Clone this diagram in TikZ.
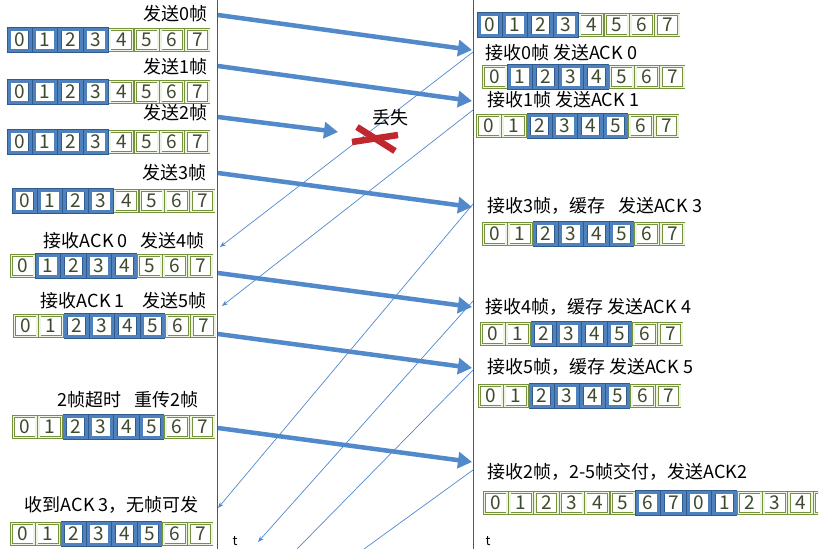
\documentclass[tikz,border=0pt]{standalone}
\usepackage{fontspec}
\setmainfont{Noto Sans CJK SC}
\usepackage{xcolor}
\usepackage{tikz}
\usetikzlibrary{arrows.meta}
\definecolor{SWGreen}{HTML}{76923C}
\definecolor{SWFill}{HTML}{EEF4E2}
\definecolor{SWBlue}{HTML}{4F81BD}
\definecolor{SWBlueDark}{HTML}{2E5A8E}
\definecolor{SWArrow}{HTML}{5289CB}
\definecolor{SWDigit}{HTML}{3E4A30}
\definecolor{SWRed}{HTML}{C0282E}
\definecolor{SWAxis}{HTML}{555555}

% one row of window slots: name, x, y, first blue, last blue, last index
\newcommand{\slotrow}[6]{%
  \foreach \i in {0,...,#6}{%
    \pgfmathtruncatemacro{\num}{mod(\i,8)}%
    \ifnum\i<#4\relax\def\kind{slot}\else\ifnum\i>#5\relax\def\kind{slot}\else\def\kind{hot}\fi\fi
    \node[\kind] (#1-\i) at (#2+12.7+25.4*\i,#3+12) {\num};
  }}

\begin{document}
\begin{tikzpicture}[x=1pt,y=-1pt,
  lab/.style={inner sep=0pt,font=\fontsize{18}{21}\selectfont},
  slot/.style={draw=SWGreen,line width=.6pt,double=SWFill,double distance=1.6pt,fill=white,
    minimum width=22.6pt,minimum height=21.2pt,inner sep=0pt,text=SWDigit,font=\fontsize{19}{19}\selectfont},
  hot/.style={slot,draw=SWBlueDark,line width=.5pt,double=SWBlue,double distance=3pt,minimum width=21.4pt},
  sendarrow/.style={SWArrow,line width=4.5pt,-{Triangle[length=14pt,width=16pt]}},
  ack/.style={SWArrow,line width=.7pt,-{Stealth[length=6pt,width=4.5pt]}},
  ackcut/.style={SWArrow,line width=.7pt},
  lost/.style={SWRed,line width=6.5pt},
  axis/.style={SWAxis,line width=.8pt}]
\useasboundingbox (0,0) rectangle (825,549);
\fill[white] (0,0) rectangle (825,549);

% time lines
\coordinate (sndtop) at (217,0);
\coordinate (sndbot) at (217,549);
\coordinate (rcvtop) at (473,0);
\coordinate (rcvbot) at (473,549);
\draw[axis] (sndtop) -- (sndbot);
\draw[axis] (rcvtop) -- (rcvbot);
\node[lab,font=\fontsize{13}{13}\selectfont] (sndt) at (235,541) {t};
\node[lab,font=\fontsize{13}{13}\selectfont] (rcvt) at (488,541) {t};

% sender windows
\node[lab,anchor=east] (s1lab) at (208,14) {发送0帧};
\slotrow{s1}{7}{28}{0}{3}{7}
\node[lab,anchor=east] (s2lab) at (208,67) {发送1帧};
\slotrow{s2}{7}{80}{0}{3}{7}
\node[lab,anchor=east] (s3lab) at (208,113) {发送2帧};
\slotrow{s3}{7}{130}{0}{3}{7}
\node[lab,anchor=east] (s4lab) at (207,173) {发送3帧};
\slotrow{s4}{12}{189}{0}{3}{7}
\node[lab,anchor=east] (s5lab) at (205,241) {接收ACK 0\enspace\ 发送4帧};
\slotrow{s5}{10}{254}{1}{4}{7}
\node[lab,anchor=east] (s6lab) at (207,301) {接收ACK 1\enspace\enspace 发送5帧};
\slotrow{s6}{13}{314}{2}{5}{7}
\node[lab,anchor=east] (s7lab) at (199,400) {2帧超时\enspace\ 重传2帧};
\slotrow{s7}{12}{415}{2}{5}{7}
\node[lab,anchor=east] (s8lab) at (199,505) {收到ACK 3，无帧可发};
\slotrow{s8}{10}{522}{2}{5}{7}

% receiver windows
\slotrow{r1}{477}{13}{0}{3}{7}
\node[lab,anchor=west] (r2lab) at (485,53) {接收0帧 发送ACK 0};
\slotrow{r2}{482}{65}{1}{4}{7}
\node[lab,anchor=west] (r3lab) at (487,100) {接收1帧 发送ACK 1};
\slotrow{r3}{476}{114}{2}{5}{7}
\node[lab,anchor=west] (r4lab) at (487,206) {接收3帧，缓存\enspace\ 发送ACK 3};
\slotrow{r4}{482}{222}{2}{5}{7}
\node[lab,anchor=west] (r5lab) at (485,307) {接收4帧，缓存 发送ACK 4};
\slotrow{r5}{480}{322}{2}{5}{7}
\node[lab,anchor=west] (r6lab) at (487,367) {接收5帧，缓存 发送ACK 5};
\slotrow{r6}{478}{384}{2}{5}{7}
\node[lab,anchor=west] (r7lab) at (487,472) {接收2帧，2-5帧交付，发送ACK2};
\slotrow{r7}{483}{491}{6}{9}{12}
\begin{scope}
\clip (470,480) rectangle (818,522);
\node[slot] (r7-13) at (483+12.7+25.4*13,503) {};
\end{scope}

% data frames
\coordinate (f0s) at (218,15);  \coordinate (f0e) at (472,50);
\coordinate (f1s) at (218,66);  \coordinate (f1e) at (472,101);
\coordinate (f2s) at (218,117); \coordinate (f2e) at (338,132);
\coordinate (f3s) at (218,173); \coordinate (f3e) at (472,207);
\coordinate (f4s) at (218,273); \coordinate (f4e) at (472,307);
\coordinate (f5s) at (218,334); \coordinate (f5e) at (472,368);
\coordinate (f6s) at (218,428); \coordinate (f6e) at (472,462);
\foreach \f in {0,...,6}{
  \draw[sendarrow] (f\f s) -- (f\f e);
}

% acks
\coordinate (a0s) at (473,52);  \coordinate (a0e) at (220,247);
\coordinate (a1s) at (473,110); \coordinate (a1e) at (222,306);
\coordinate (a3s) at (473,204); \coordinate (a3e) at (218,508);
\coordinate (a4s) at (473,301); \coordinate (a4e) at (258,542);
\coordinate (a5s) at (473,370); \coordinate (a5e) at (297,549);
\coordinate (a2s) at (473,470); \coordinate (a2e) at (364,549);
\foreach \a in {0,1,3,4}{
  \draw[ack] (a\a s) -- (a\a e);
}
\draw[ackcut] (a5s) -- (a5e);
\draw[ackcut] (a2s) -- (a2e);

% frame 2 is lost
\coordinate (x1) at (357,127); \coordinate (x2) at (395,151);
\coordinate (x3) at (352,142); \coordinate (x4) at (398,135);
\draw[lost] (x1) -- (x2);
\draw[lost] (x3) -- (x4);
\node[lab] (lostlab) at (390,118) {丢失};
\end{tikzpicture}
\end{document}
